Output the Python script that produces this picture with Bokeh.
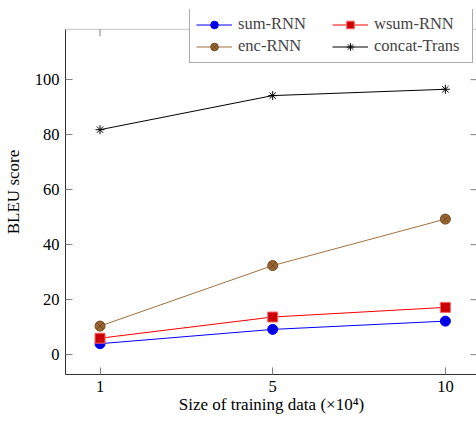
import math
from bokeh.plotting import figure
from bokeh.models import Range1d, FixedTicker, Legend, LegendItem, BoxAnnotation
from bokeh.embed import file_html
from bokeh.resources import INLINE

sizes = ["1", "5", "10"]
sum_rnn = [4.0, 9.2, 12.2]
wsum_rnn = [6.0, 13.7, 17.2]
enc_rnn = [10.4, 32.4, 49.3]
concat_trans = [81.8, 94.2, 96.5]
y_ticks = [0, 20, 40, 60, 80, 100]

xs = list(range(len(sizes)))
FONT = "Liberation Serif"
FS_TICK = "16.5px"
FS_LABEL = "17px"
FS_LEG = "16.5px"

# axis box limits (data units)
XMIN, XMAX = -0.2, 2.186
YMIN, YMAX = -7.2, 118.3
Y_TOP = 125.5  # extra room above the box so the legend can overlap it

p = figure(frame_width=412, frame_height=365, width=476, height=422,
           min_border_left=64, min_border_right=0, min_border_top=9, min_border_bottom=48,
           x_range=Range1d(XMIN, XMAX), y_range=Range1d(YMIN, Y_TOP),
           output_backend="svg", toolbar_location=None)
p.xgrid.visible = False
p.ygrid.visible = False
p.outline_line_color = None

def style_axis(ax):
    ax.major_tick_in = 7
    ax.major_tick_out = 0
    ax.minor_tick_in = 0
    ax.minor_tick_out = 0
    ax.major_tick_line_color = "#808080"
    ax.axis_line_color = "#333333"
    ax.major_label_text_font = FONT
    ax.major_label_text_font_size = FS_TICK
    ax.major_label_text_color = "black"
    ax.axis_label_text_font = FONT
    ax.axis_label_text_font_size = FS_LABEL
    ax.axis_label_text_font_style = "normal"
    ax.axis_label_text_color = "black"

p.xaxis.ticker = FixedTicker(ticks=xs)
p.xaxis.major_label_overrides = {i: s for i, s in enumerate(sizes)}
p.yaxis.ticker = FixedTicker(ticks=y_ticks)
p.yaxis.bounds = (YMIN, YMAX)
p.xaxis.axis_label = "Size of training data (×10⁴)"
p.yaxis.axis_label = "BLEU score"
style_axis(p.xaxis[0])
style_axis(p.yaxis[0])
p.xaxis.major_label_standoff = 6
p.yaxis.major_label_standoff = 6
p.xaxis.axis_label_standoff = 0
p.yaxis.axis_label_standoff = 9

# visible axis box
p.add_layout(BoxAnnotation(left=XMIN, right=XMAX, bottom=YMIN, top=YMAX,
                           fill_alpha=0, line_color="#333333", line_width=1, level="underlay"))
# mirrored inward ticks on top and right edges
p.ray(x=xs, y=[YMAX] * len(xs), length=7, length_units="screen", angle=-math.pi / 2,
      line_color="#808080", line_width=1)
p.ray(x=[XMAX] * len(y_ticks), y=y_ticks, length=7, length_units="screen", angle=math.pi,
      line_color="#808080", line_width=1)

l1 = p.line(xs, sum_rnn, line_color="#0000ff", line_width=1)
m1 = p.scatter(xs, sum_rnn, marker="circle", size=10, fill_color="#0000e0", line_color="#0000ff")
l2 = p.line(xs, wsum_rnn, line_color="#ff0000", line_width=1)
m2 = p.scatter(xs, wsum_rnn, marker="square", size=10, fill_color="#cc0000", line_color="#ff6666")
l3 = p.line(xs, enc_rnn, line_color="#a0713f", line_width=1)
m3 = p.scatter(xs, enc_rnn, marker="circle_x", size=10, fill_color="#99662f", line_color="#70481f")
l4 = p.line(xs, concat_trans, line_color="black", line_width=1)
m4 = p.scatter(xs, concat_trans, marker="asterisk", size=9, fill_color=None, line_color="black")

items = [
    LegendItem(label="sum-RNN", renderers=[l1, m1]),
    LegendItem(label="enc-RNN", renderers=[l3, m3]),
    LegendItem(label="wsum-RNN", renderers=[l2, m2]),
    LegendItem(label="concat-Trans", renderers=[l4, m4]),
]

leg = Legend(items=items, ncols=2, location=(124, 311),
             label_text_font=FONT, label_text_font_size=FS_LEG,
             border_line_color="#555555", border_line_width=1,
             background_fill_alpha=1, glyph_width=36, glyph_height=19,
             label_standoff=6, spacing=2, padding=6, margin=0,
             label_height=19, label_width=92)
p.add_layout(leg, "center")

open("out.html", "w").write(file_html(p, INLINE))
